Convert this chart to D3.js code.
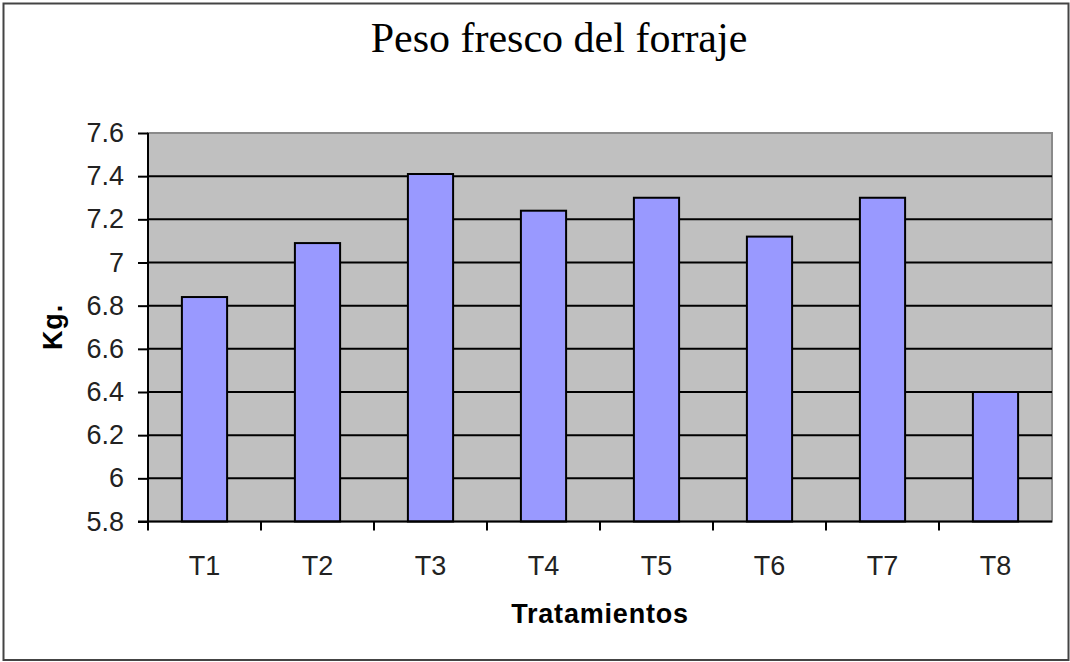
<html>
<head>
<style>
body { margin: 0; background: #fff; }
</style>
</head>
<body>
<div id="chart"></div>
<script src="https://d3js.org/d3.v7.min.js"></script>
<script>

var categories = ["T1", "T2", "T3", "T4", "T5", "T6", "T7", "T8"]
var values = [6.84, 7.09, 7.41, 7.24, 7.30, 7.12, 7.30, 6.40]
var yTicks = [5.8, 6, 6.2, 6.4, 6.6, 6.8, 7, 7.2, 7.4, 7.6]

var W = 1070, H = 662
var plot = {left: 148, right: 1052, top: 133, bottom: 521.5}

var svg = d3.select("#chart")
  .append("svg")
  .attr("width", W)
  .attr("height", H)
  .style("display", "block")

// outer frame
svg.append("rect")
  .attr("x", 3.5).attr("y", 3.5)
  .attr("width", 1065).attr("height", 656.5)
  .attr("fill", "#fff")
  .attr("stroke", "#444")
  .attr("stroke-width", 2)

var x = d3.scaleBand()
  .domain(categories)
  .range([plot.left, plot.right])
  .paddingInner(0.6)
  .paddingOuter(0.3)

var y = d3.scaleLinear()
  .domain([5.8, 7.6])
  .range([plot.bottom, plot.top])

// plot area
svg.append("rect")
  .attr("x", plot.left).attr("y", plot.top)
  .attr("width", plot.right - plot.left)
  .attr("height", plot.bottom - plot.top)
  .attr("fill", "#c0c0c0")
  .attr("stroke", "#8a8a8a")
  .attr("stroke-width", 2)

// gridlines
svg.selectAll(".grid")
  .data(yTicks.filter(d => d > 5.8 && d < 7.6))
  .enter().append("line")
  .attr("class", "grid")
  .attr("x1", plot.left).attr("x2", plot.right)
  .attr("y1", d => y(d)).attr("y2", d => y(d))
  .attr("stroke", "#000")
  .attr("stroke-width", 2)

// bars
svg.selectAll(".bar")
  .data(values)
  .enter().append("rect")
  .attr("class", "bar")
  .attr("x", (d, i) => x(categories[i]))
  .attr("y", d => y(d))
  .attr("width", x.bandwidth())
  .attr("height", d => y(5.8) - y(d))
  .attr("fill", "#9999ff")
  .attr("stroke", "#000")
  .attr("stroke-width", 2)

// y axis
var yAxis = d3.axisLeft(y)
  .tickValues(yTicks)
  .tickSize(10)
  .tickPadding(14)
  .tickFormat(d => d3.format("")(+d.toFixed(1)))

var gy = svg.append("g")
  .attr("transform", "translate(" + plot.left + ",0)")
  .call(yAxis)
gy.select(".domain").remove()
gy.append("line")
  .attr("x1", 0).attr("x2", 0)
  .attr("y1", plot.top).attr("y2", plot.bottom + 1)
  .attr("stroke", "#000").attr("stroke-width", 2)

// x axis
var gx = svg.append("g")
gx.append("line")
  .attr("x1", plot.left - 10).attr("x2", plot.right)
  .attr("y1", plot.bottom).attr("y2", plot.bottom)
  .attr("stroke", "#000").attr("stroke-width", 2)

var step = x.step()
gx.selectAll(".xtick")
  .data(d3.range(categories.length))
  .enter().append("line")
  .attr("class", "xtick")
  .attr("x1", i => plot.left + i * step)
  .attr("x2", i => plot.left + i * step)
  .attr("y1", plot.bottom).attr("y2", plot.bottom + 9)
  .attr("stroke", "#000").attr("stroke-width", 2)

gx.selectAll(".xlabel")
  .data(categories)
  .enter().append("text")
  .attr("class", "xlabel")
  .attr("x", d => x(d) + x.bandwidth() / 2)
  .attr("y", 575)
  .attr("text-anchor", "middle")
  .text(d => d)

svg.selectAll(".tick line")
  .attr("stroke", "#000").attr("stroke-width", 2)

svg.selectAll(".tick text, .xlabel")
  .attr("fill", "#222")
  .style("font-family", "'Liberation Sans', Arial, sans-serif")
  .style("font-size", "27px")

// titles
svg.append("text")
  .attr("x", 559).attr("y", 52)
  .attr("text-anchor", "middle")
  .style("font-family", "'Liberation Serif', 'Times New Roman', serif")
  .style("font-size", "42px")
  .text("Peso fresco del forraje")

svg.append("text")
  .attr("x", (plot.left + plot.right) / 2).attr("y", 623)
  .attr("text-anchor", "middle")
  .style("font-family", "'Liberation Sans', Arial, sans-serif")
  .style("font-size", "27px")
  .style("font-weight", "bold")
  .style("letter-spacing", "0.8px")
  .text("Tratamientos")

svg.append("text")
  .attr("transform", "translate(62,327) rotate(-90)")
  .attr("text-anchor", "middle")
  .style("font-family", "'Liberation Sans', Arial, sans-serif")
  .style("font-size", "27px")
  .style("font-weight", "bold")
  .style("letter-spacing", "0.8px")
  .text("Kg.")

</script>
</body>
</html>
